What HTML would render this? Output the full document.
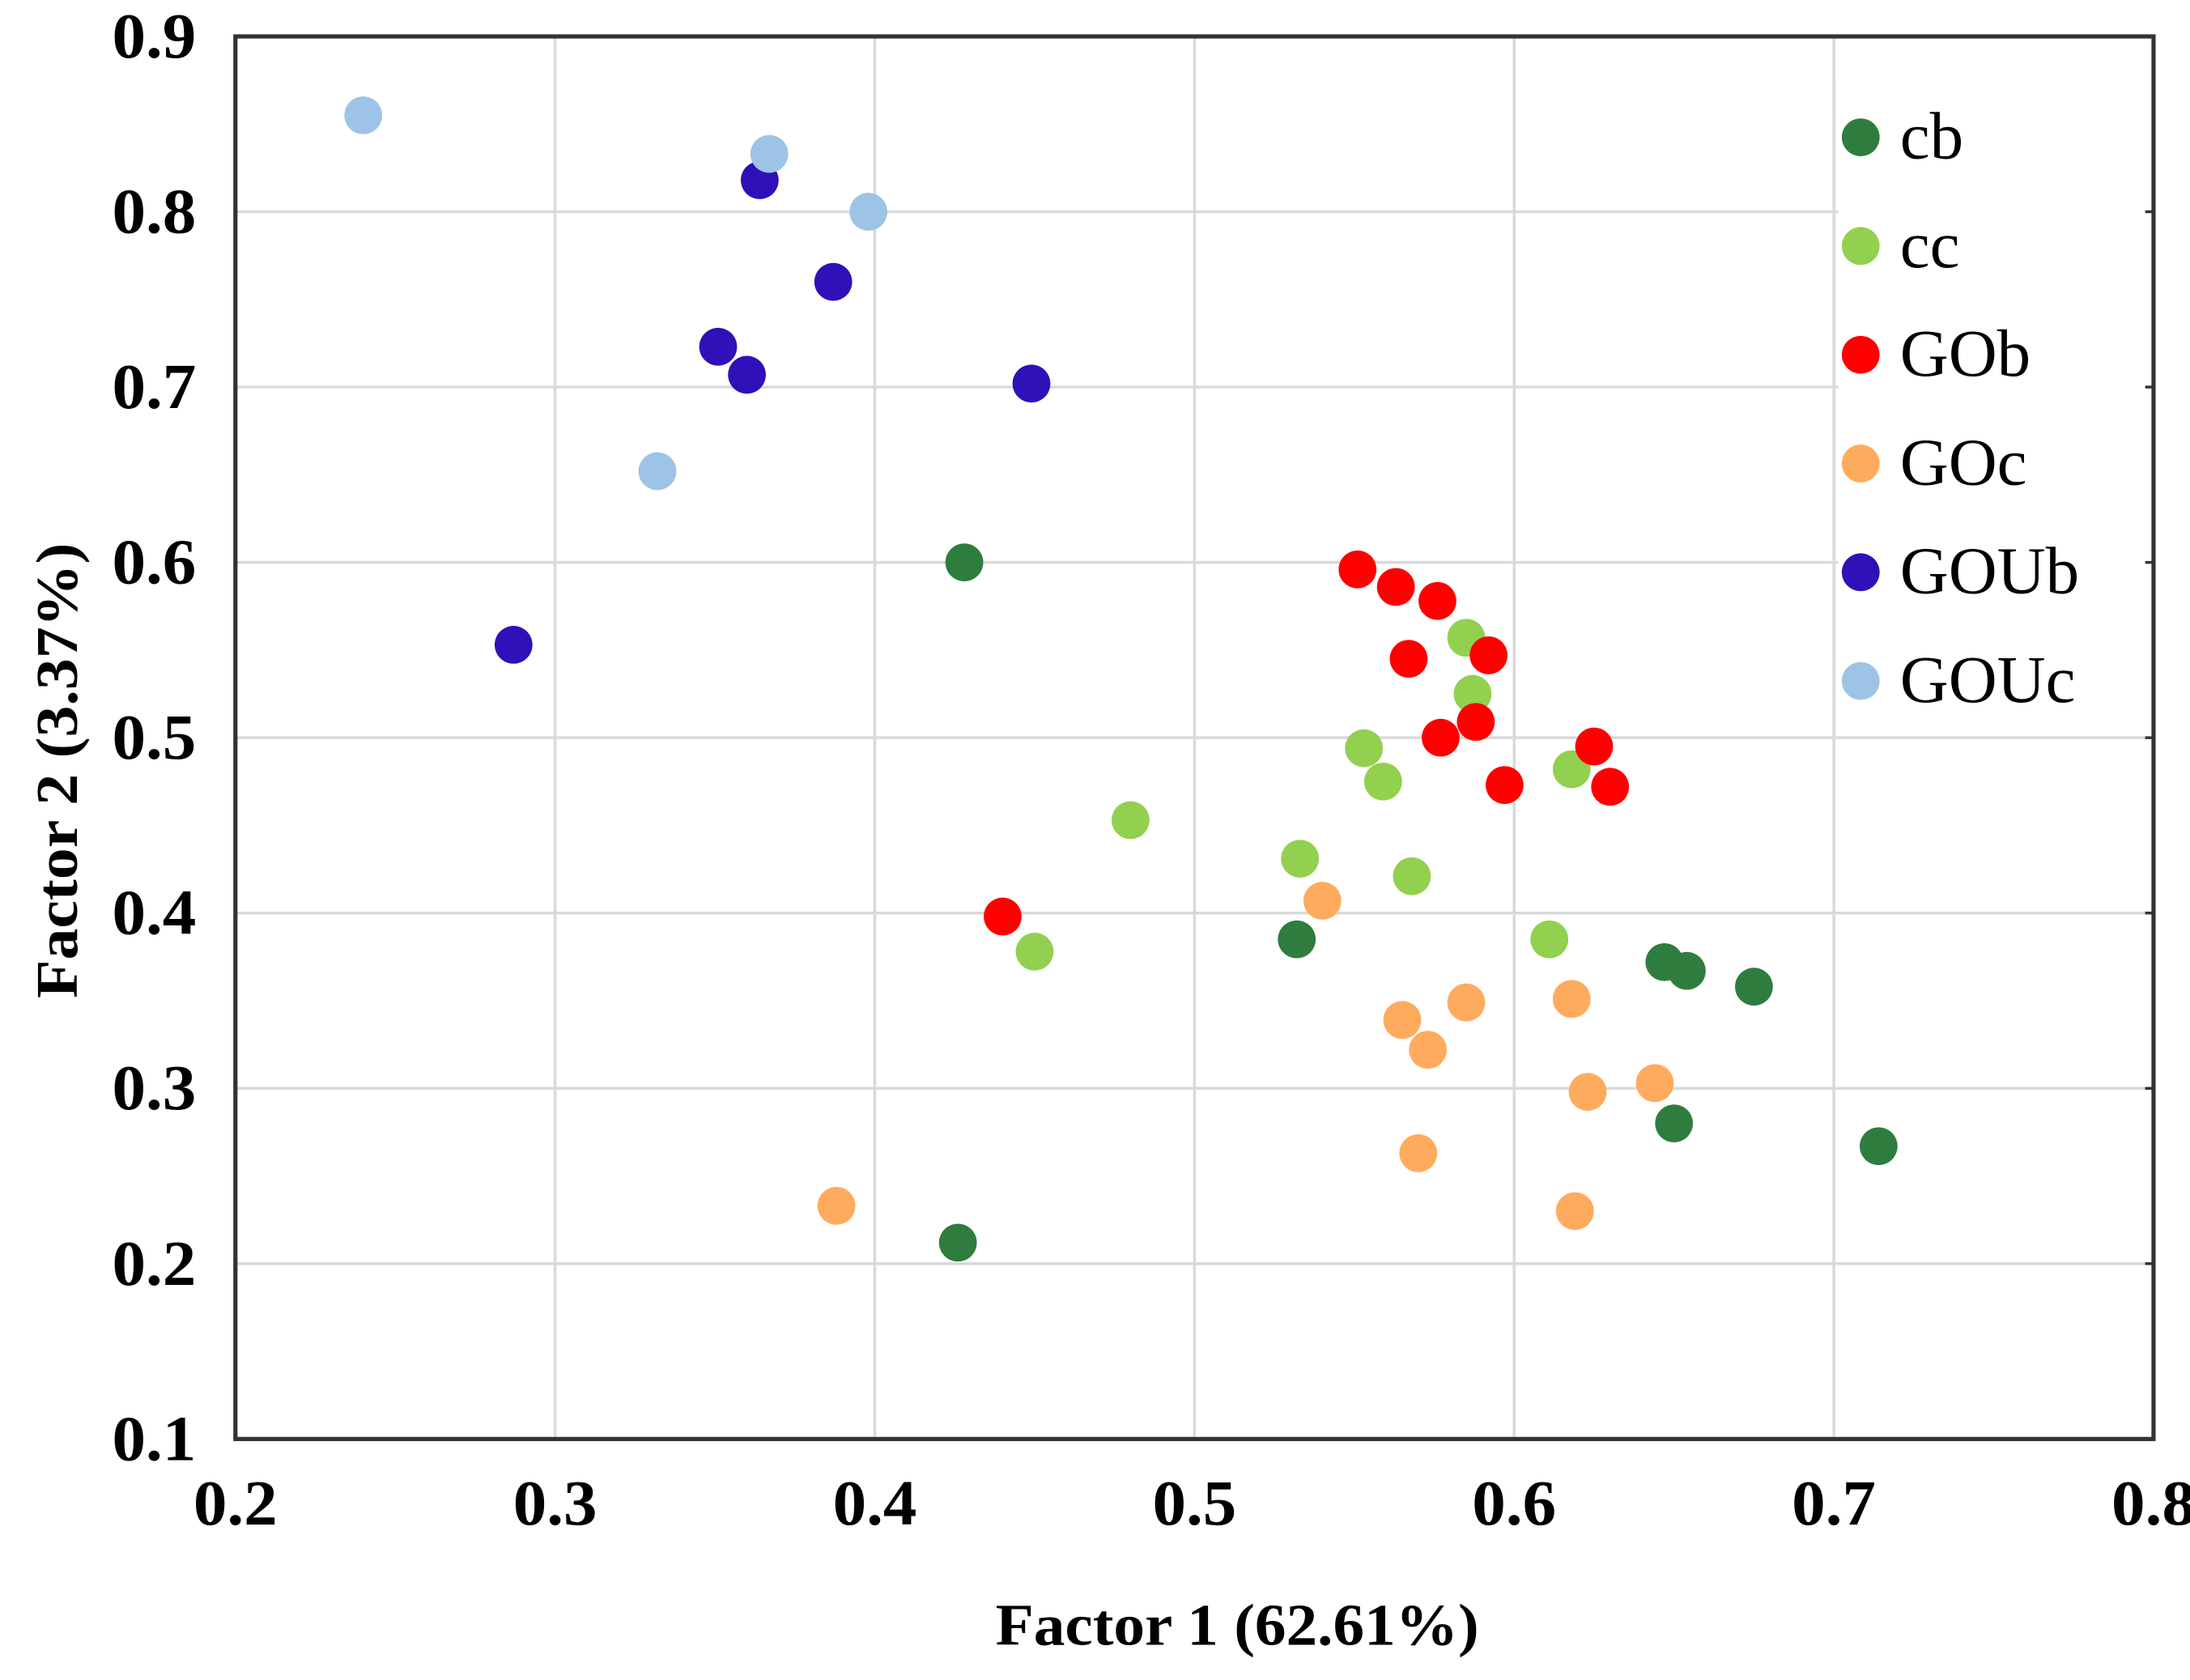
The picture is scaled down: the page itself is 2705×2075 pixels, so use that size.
<!DOCTYPE html>
<html><head><meta charset="utf-8"><style>
html,body{margin:0;padding:0;background:#fff;}
svg{display:block;}
text{font-family:"Liberation Serif",serif;fill:#000;}
</style></head><body>
<svg id="chart" width="2705" height="2075" viewBox="0 0 1563 1199" xmlns="http://www.w3.org/2000/svg">
<g id="grid"></g>
<g id="pts"></g>
<rect x="1312" y="55" width="222" height="470" fill="#fff"/>
<line x1="1309" y1="55" x2="1309" y2="525" stroke="#d9d9d9" stroke-width="2"/>
<rect x="168" y="26" width="1369" height="1001" fill="none" stroke="#333" stroke-width="3"/>
<g id="ticks"></g>
<g id="legend"></g>
<text x="883" y="1174" text-anchor="middle" font-size="42" font-weight="bold" textLength="345" lengthAdjust="spacingAndGlyphs">Factor 1 (62.61%)</text>
<text transform="translate(55,550) rotate(-90)" text-anchor="middle" font-size="42" font-weight="bold" textLength="325" lengthAdjust="spacingAndGlyphs">Factor 2 (3.37%)</text>
</svg>
<script>
const seriesNames = ["cb","cc","GOb","GOc","GOUb","GOUc"];
const seriesColors = ["#2e7d3e","#92d050","#ff0000","#ffab5e","#3010b8","#9dc3e6"];
const cbX = [0.428,0.532,0.647,0.654,0.675,0.650,0.714,0.426];
const cbY = [0.60,0.385,0.372,0.367,0.358,0.280,0.267,0.212];
const ccX = [0.585,0.587,0.553,0.559,0.618,0.480,0.533,0.568,0.611,0.450];
const ccY = [0.557,0.525,0.494,0.475,0.482,0.453,0.431,0.421,0.385,0.378];
const gobX = [0.551,0.563,0.576,0.567,0.592,0.588,0.577,0.625,0.597,0.630,0.440];
const gobY = [0.596,0.586,0.578,0.545,0.547,0.509,0.500,0.495,0.473,0.472,0.398];
const gocX = [0.540,0.565,0.573,0.585,0.618,0.644,0.623,0.570,0.619,0.388];
const gocY = [0.407,0.339,0.322,0.349,0.351,0.303,0.298,0.263,0.230,0.233];
const goubX = [0.364,0.387,0.351,0.360,0.449,0.287];
const goubY = [0.818,0.760,0.723,0.707,0.702,0.553];
const goucX = [0.240,0.367,0.398,0.332];
const goucY = [0.855,0.833,0.800,0.652];
const xTicks = [0.2,0.3,0.4,0.5,0.6,0.7,0.8];
const yTicks = [0.1,0.2,0.3,0.4,0.5,0.6,0.7,0.8,0.9];
const xTickLabels = ["0.2","0.3","0.4","0.5","0.6","0.7","0.8"];
const yTickLabels = ["0.1","0.2","0.3","0.4","0.5","0.6","0.7","0.8","0.9"];

const L=168,R=1537,T=26,B=1027;
function sx(v){return L+(v-0.2)/0.6*(R-L);}
function sy(v){return B-(v-0.1)/0.8*(B-T);}
const NS="http://www.w3.org/2000/svg";
function mk(tag,attrs,parent){const e=document.createElementNS(NS,tag);for(const k in attrs)e.setAttribute(k,attrs[k]);parent.appendChild(e);return e;}
const grid=document.getElementById('grid'),ticks=document.getElementById('ticks'),pts=document.getElementById('pts'),leg=document.getElementById('legend');
xTicks.forEach((v,i)=>{
  const g=mk('line',{x1:sx(v),x2:sx(v),y1:T,y2:B,stroke:'#d9d9d9','stroke-width':2},grid);
  
  
  const t=mk('text',{x:sx(v),y:1088,'text-anchor':'middle','font-size':46,'font-weight':'bold',textLength:60,lengthAdjust:'spacingAndGlyphs'},ticks);
  t.textContent=xTickLabels[i];
  
  
});
yTicks.forEach((v,i)=>{
  const g=mk('line',{x1:L,x2:R,y1:sy(v),y2:sy(v),stroke:'#d9d9d9','stroke-width':2},grid);
  
  
  const m=mk('line',{x1:R-6,x2:R,y1:sy(v),y2:sy(v),stroke:'#333','stroke-width':2},ticks);
  
  
  const t=mk('text',{x:140,y:sy(v)+15,'text-anchor':'end','font-size':46,'font-weight':'bold',textLength:60,lengthAdjust:'spacingAndGlyphs'},ticks);
  t.textContent=yTickLabels[i];
  
  
});
const xs=[cbX,ccX,gobX,gocX,goubX,goucX], ys=[cbY,ccY,gobY,gocY,goubY,goucY];
xs.forEach((arr,s)=>{
  arr.forEach((x,i)=>{
    const c=mk('circle',{cx:sx(x),cy:sy(ys[s][i]),r:13.5,fill:seriesColors[s]},pts);
    
    
  });
});
seriesNames.forEach((n,i)=>{
  const y=98+i*77.6;
  const c=mk('circle',{cx:1328,cy:y,r:13.5,fill:seriesColors[i]},leg);
  
  
  const t=mk('text',{x:1356,y:y+15,'font-size':48},leg);
  t.textContent=n;
  
  
});
</script>
</body></html>
